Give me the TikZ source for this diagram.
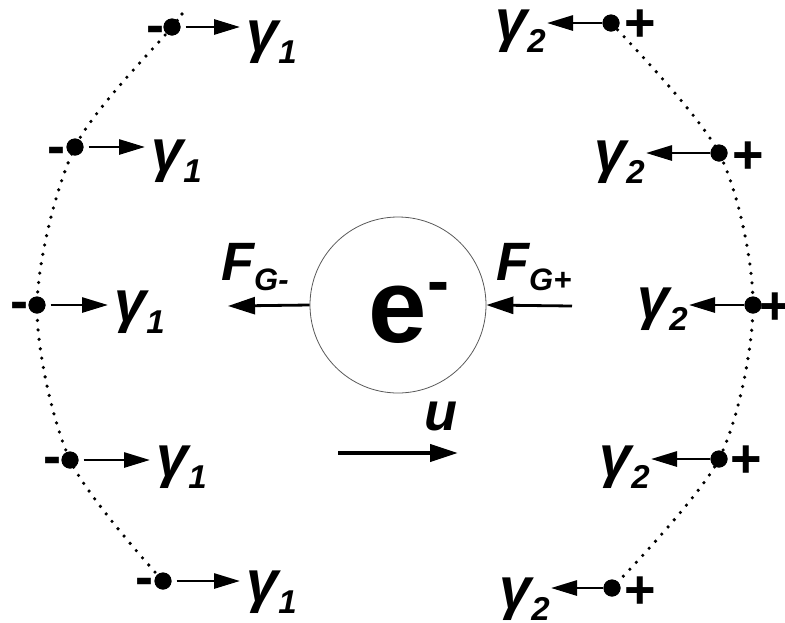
\documentclass[tikz,border=0pt]{standalone}
\usepackage{fontspec}
\setmainfont{Liberation Sans}
\usepackage{tikz}
\usetikzlibrary{arrows.meta,positioning,calc}
% gamma with a lowered index
\newcommand{\gsub}[1]{γ\raisebox{-12pt}{\fontsize{33pt}{33pt}\selectfont #1}}
\newcommand{\fsub}[1]{F\raisebox{-10pt}{\fontsize{31pt}{31pt}\selectfont #1}}

\begin{document}
\begin{tikzpicture}[x=1pt,y=-1pt,
  pdot/.style={circle, fill=black, minimum size=17pt, inner sep=0pt},
  sign/.style={font=\bfseries\fontsize{54pt}{54pt}\selectfont, inner sep=0pt, anchor=base},
  glabel/.style={font=\bfseries\itshape\fontsize{58pt}{58pt}\selectfont, inner sep=0pt, anchor=base west},
  flabel/.style={font=\bfseries\itshape\fontsize{54pt}{54pt}\selectfont, inner sep=0pt, anchor=base west},
  garrow/.style={line width=2.8pt, -{Triangle[length=26pt,width=15pt]}},
  farrow/.style={line width=2.8pt, -{Triangle[length=27pt,width=17pt]}},
  dotline/.style={line width=3.6pt, line cap=round, dash pattern=on 0pt off 9.5pt}]
\useasboundingbox (0,0) rectangle (785,622);

% --- Electron ---
\node[circle, draw=gray!70!black, line width=0.8pt, minimum size=176pt, inner sep=0pt,
      text height=74pt, text depth=0pt, font=\bfseries\fontsize{105pt}{105pt}\selectfont]
  (el) at (398,305) {e\rlap{\raisebox{39pt}{\fontsize{66pt}{66pt}\selectfont -}}};

\coordinate (fm) at (228,306);
\coordinate (fp) at (572,306);
\draw[farrow] (el.west) -- (fm);
\draw[farrow] (fp) -- (el.east);
\node[flabel] (fgm) at (221,280) {\fsub{G-}};
\node[flabel] (fgp) at (496,280) {\fsub{G+}};

% velocity
\coordinate (u0) at (338,453);
\coordinate (u1) at (458,453);
\draw[line width=4pt, -{Triangle[length=28pt,width=17pt]}] (u0) -- (u1);
\node[flabel] (ul) at (424,430) {u};

% --- Left side (negative) ---
\coordinate (ltop) at (182,14);
\node[pdot] (l1) at (172,27) {};
\node[pdot] (l2) at (75,147) {};
\node[pdot] (l3) at (37,305) {};
\node[pdot] (l4) at (70,460) {};
\node[pdot] (l5) at (163,581) {};
\draw[dotline] plot[smooth] coordinates {(ltop) (l1) (l2) (l3) (l4) (l5)};
\node[pdot] at (l1) {};
\node[pdot] at (l2) {};
\node[pdot] at (l3) {};
\node[pdot] at (l4) {};
\node[pdot] at (l5) {};

\node[sign] (m1) at (155,43) {-};
\node[sign] (m2) at (56,164) {-};
\node[sign] (m3) at (19,319) {-};
\node[sign] (m4) at (52,474) {-};
\node[sign] (m5) at (144,595) {-};

\node[glabel] (gl1) at (246,51) {\gsub{1}};
\node[glabel] (gl2) at (151,170) {\gsub{1}};
\node[glabel] (gl3) at (114,321) {\gsub{1}};
\node[glabel] (gl4) at (156,476) {\gsub{1}};
\node[glabel] (gl5) at (246,601) {\gsub{1}};

\draw[garrow, shorten <=5pt, shorten >=6pt] (l1) -- (l1 -| gl1.west);
\draw[garrow, shorten <=5pt, shorten >=6pt] (l2) -- (l2 -| gl2.west);
\draw[garrow, shorten <=5pt, shorten >=6pt] (l3) -- (l3 -| gl3.west);
\draw[garrow, shorten <=5pt, shorten >=6pt] (l4) -- (l4 -| gl4.west);
\draw[garrow, shorten <=5pt, shorten >=6pt] (l5) -- (l5 -| gl5.west);

% --- Right side (positive) ---
\node[pdot] (r1) at (611,23) {};
\node[pdot] (r2) at (719,153) {};
\node[pdot] (r3) at (753,305) {};
\node[pdot] (r4) at (719,459) {};
\node[pdot] (r5) at (612,588) {};
\draw[dotline] plot[smooth] coordinates {(r1) (r2) (r3) (r4) (r5)};
\node[pdot] at (r1) {};
\node[pdot] at (r2) {};
\node[pdot] at (r3) {};
\node[pdot] at (r4) {};
\node[pdot] at (r5) {};

\node[sign] (p1) at (640,41) {+};
\node[sign] (p2) at (748,173) {+};
\node[sign] (p3) at (775,324) {+};
\node[sign] (p4) at (746,477) {+};
\node[sign] (p5) at (640,608) {+};

\node[glabel] (gr1) at (495,40) {\gsub{2}};
\node[glabel] (gr2) at (594,171) {\gsub{2}};
\node[glabel] (gr3) at (637,318) {\gsub{2}};
\node[glabel] (gr4) at (599,476) {\gsub{2}};
\node[glabel] (gr5) at (499,608) {\gsub{2}};

\draw[garrow, shorten >=1pt] (r1) -- (r1 -| gr1.east);
\draw[garrow, shorten >=1pt] (r2) -- (r2 -| gr2.east);
\draw[garrow, shorten >=1pt] (r3) -- (r3 -| gr3.east);
\draw[garrow, shorten >=1pt] (r4) -- (r4 -| gr4.east);
\draw[garrow, shorten >=1pt] (r5) -- (r5 -| gr5.east);
\end{tikzpicture}
\end{document}
